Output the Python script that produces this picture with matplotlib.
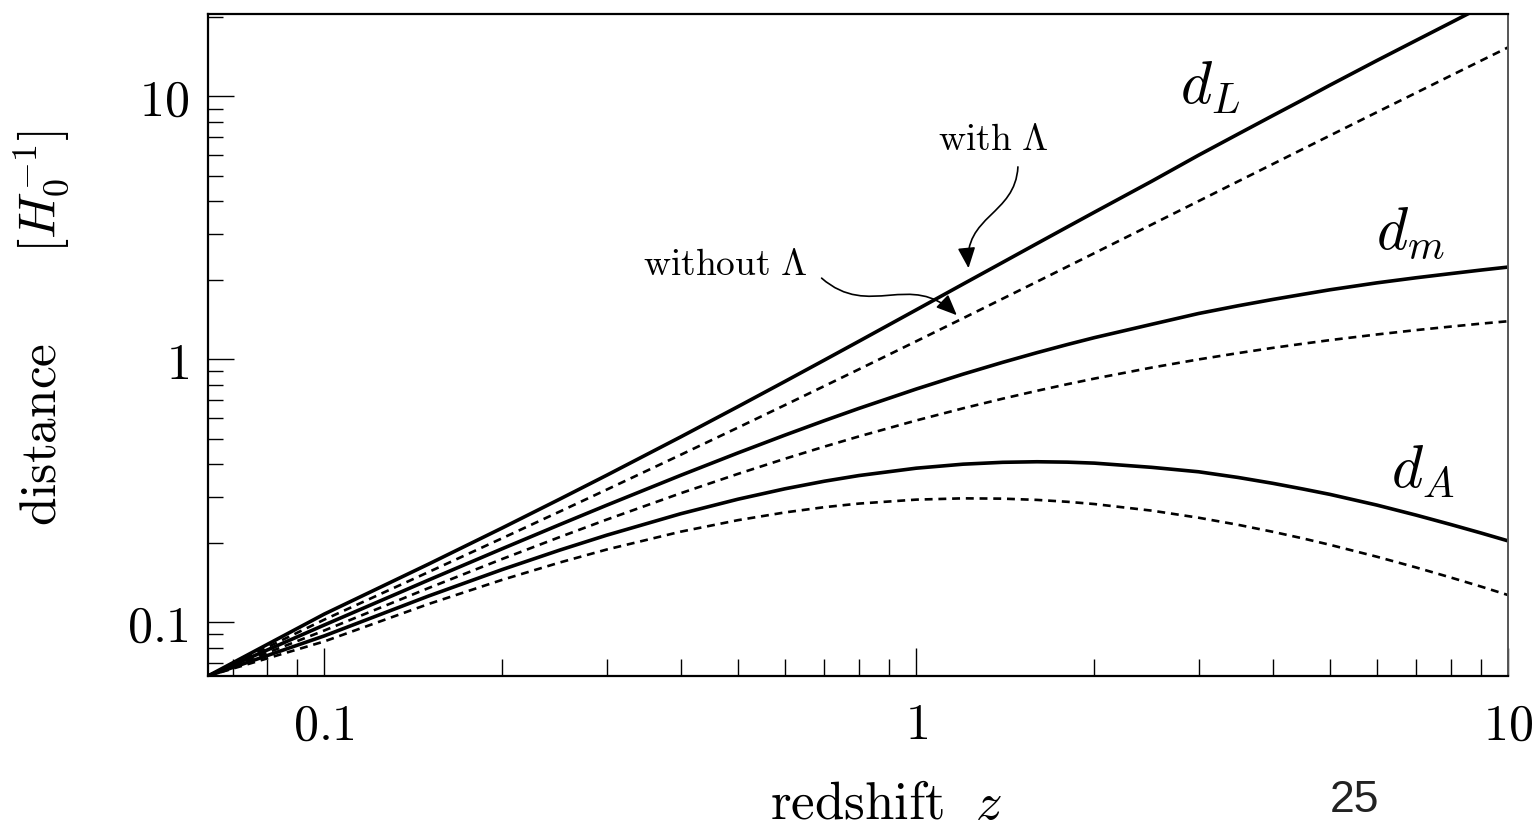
import matplotlib

matplotlib.use("Agg")
import matplotlib.pyplot as plt
from matplotlib.patches import FancyArrowPatch
from matplotlib.path import Path
from matplotlib.ticker import FixedLocator, FixedFormatter, LogLocator, NullFormatter

plt.rcParams["mathtext.fontset"] = "cm"
plt.rcParams["font.family"] = "serif"

# redshift grid
z = [0.0636, 0.1, 0.15, 0.2, 0.25, 0.3, 0.4, 0.5, 0.6, 0.7, 0.8, 1.0, 1.2, 1.4,
     1.6, 1.8, 2.0, 2.5, 3.0, 3.5, 4.0, 4.5, 5.0, 6.0, 7.0, 8.0, 9.0, 10.0]

# with Lambda (solid)
dL_lam = [0.0625, 0.1075, 0.1665, 0.2288, 0.2943, 0.3626, 0.5072, 0.6615, 0.8243,
          0.9947, 1.1716, 1.543, 1.934, 2.339, 2.759, 3.189, 3.629, 4.760, 5.980,
          7.200, 8.450, 9.720, 11.04, 13.69, 16.36, 19.08, 21.87, 24.70]
dm_lam = [0.0625, 0.0977, 0.1448, 0.1907, 0.2354, 0.2789, 0.3623, 0.4410, 0.5152,
          0.5851, 0.6509, 0.7714, 0.8789, 0.9747, 1.061, 1.139, 1.210, 1.360, 1.495,
          1.600, 1.690, 1.768, 1.840, 1.955, 2.045, 2.120, 2.187, 2.245]
dA_lam = [0.0625, 0.0888, 0.1259, 0.1589, 0.1883, 0.2145, 0.2588, 0.2940, 0.3220,
          0.3442, 0.3616, 0.3857, 0.3995, 0.4061, 0.4081, 0.4067, 0.4032, 0.3886,
          0.3738, 0.3556, 0.3380, 0.3215, 0.3067, 0.2793, 0.2556, 0.2356, 0.2187, 0.2041]

# without Lambda (dashed)
dL_nol = [0.0625, 0.1024, 0.1553, 0.2091, 0.2639, 0.3197, 0.4336, 0.5505, 0.6702,
          0.7924, 0.9167, 1.172, 1.434, 1.702, 1.975, 2.253, 2.536, 3.258, 4.000,
          4.757, 5.528, 6.310, 7.101, 8.709, 10.34, 12.00, 13.68, 15.37]
dm_nol = [0.0625, 0.0931, 0.1350, 0.1743, 0.2111, 0.2459, 0.3097, 0.3670, 0.4189,
          0.4661, 0.5093, 0.5858, 0.6516, 0.7090, 0.7597, 0.8048, 0.8453, 0.9310,
          1.000, 1.057, 1.106, 1.147, 1.184, 1.244, 1.293, 1.333, 1.368, 1.397]
dA_nol = [0.0625, 0.0846, 0.1174, 0.1452, 0.1689, 0.1892, 0.2212, 0.2447, 0.2618,
          0.2742, 0.2829, 0.2929, 0.2962, 0.2954, 0.2922, 0.2874, 0.2818, 0.2660,
          0.2500, 0.2349, 0.2211, 0.2086, 0.1972, 0.1777, 0.1616, 0.1481, 0.1368, 0.1270]

xticks = [0.1, 1, 10]
xtick_labels = [r"$0.1$", r"$1$", r"$10$"]
yticks = [0.1, 1, 10]
ytick_labels = [r"$0.1$", r"$1$", r"$10$"]

fig = plt.figure(figsize=(15.36, 8.32), dpi=100)
ax = fig.add_axes([0.1354, 0.1875, 0.8464, 0.7957])

solid = dict(color="black", lw=2.6, solid_capstyle="butt", solid_joinstyle="round")
dashed = dict(color="black", lw=1.9, dashes=(3.0, 2.2))
for y in (dL_lam, dm_lam, dA_lam):
    ax.plot(z, y, **solid)
for y in (dL_nol, dm_nol, dA_nol):
    ax.plot(z, y, **dashed)

ax.set_xscale("log")
ax.set_yscale("log")
ax.set_xlim(0.0636, 10)
ax.set_ylim(0.0625, 20.6)

ax.xaxis.set_major_locator(FixedLocator(xticks))
ax.xaxis.set_major_formatter(FixedFormatter(xtick_labels))
ax.yaxis.set_major_locator(FixedLocator(yticks))
ax.yaxis.set_major_formatter(FixedFormatter(ytick_labels))
ax.xaxis.set_minor_locator(LogLocator(base=10, subs=range(2, 10)))
ax.yaxis.set_minor_locator(LogLocator(base=10, subs=range(2, 10)))
ax.xaxis.set_minor_formatter(NullFormatter())
ax.yaxis.set_minor_formatter(NullFormatter())

ax.tick_params(which="both", direction="in", top=False, right=False, width=1.0,
               labelsize=36)
ax.tick_params(axis="x", which="major", length=20, pad=18)
ax.tick_params(axis="x", which="minor", length=12)
ax.tick_params(axis="y", which="major", length=19, pad=14)
ax.tick_params(axis="y", which="minor", length=11)

for side in ("left", "bottom", "top"):
    ax.spines[side].set_linewidth(1.6)
ax.spines["right"].set_linewidth(1.4)
ax.spines["right"].set_color("#555555")

# curve labels
ax.text(0.771, 0.890, r"$d_L$", transform=ax.transAxes, fontsize=43,
        ha="center", va="center")
ax.text(0.925, 0.671, r"$d_m$", transform=ax.transAxes, fontsize=43,
        ha="center", va="center")
ax.text(0.934, 0.310, r"$d_A$", transform=ax.transAxes, fontsize=43,
        ha="center", va="center")

# "with / without Lambda" annotations with wavy arrows
ax.text(0.604, 0.810, r"$\mathrm{with}\ \Lambda$", transform=ax.transAxes,
        fontsize=27, ha="center", va="center")
ax.text(0.398, 0.621, r"$\mathrm{without}\ \Lambda$", transform=ax.transAxes,
        fontsize=27, ha="center", va="center")

arrow_kw = dict(arrowstyle="-|>,head_length=0.7,head_width=0.3",
                mutation_scale=18, color="black", lw=1.2,
                transform=ax.transAxes)
with_path = Path([(0.623, 0.769), (0.621, 0.696), (0.581, 0.696), (0.585, 0.616)],
                 [Path.MOVETO, Path.CURVE4, Path.CURVE4, Path.CURVE4])
without_path = Path([(0.472, 0.601), (0.509, 0.538), (0.540, 0.613), (0.576, 0.545)],
                    [Path.MOVETO, Path.CURVE4, Path.CURVE4, Path.CURVE4])
ax.add_patch(FancyArrowPatch(path=with_path, **arrow_kw))
ax.add_patch(FancyArrowPatch(path=without_path, **arrow_kw))

fig.text(0.577, 0.033, r"$\mathrm{redshift}\ \ z$", fontsize=38,
         ha="center", va="center")
fig.text(0.027, 0.606, r"$\mathrm{distance}\qquad [H_0^{-1}]$", fontsize=37,
         ha="center", va="center", rotation=90)
fig.text(0.882, 0.038, "25", fontsize=32, family="Liberation Sans",
         ha="center", va="center", color="#222222")

fig.savefig("out.png", dpi=100)
